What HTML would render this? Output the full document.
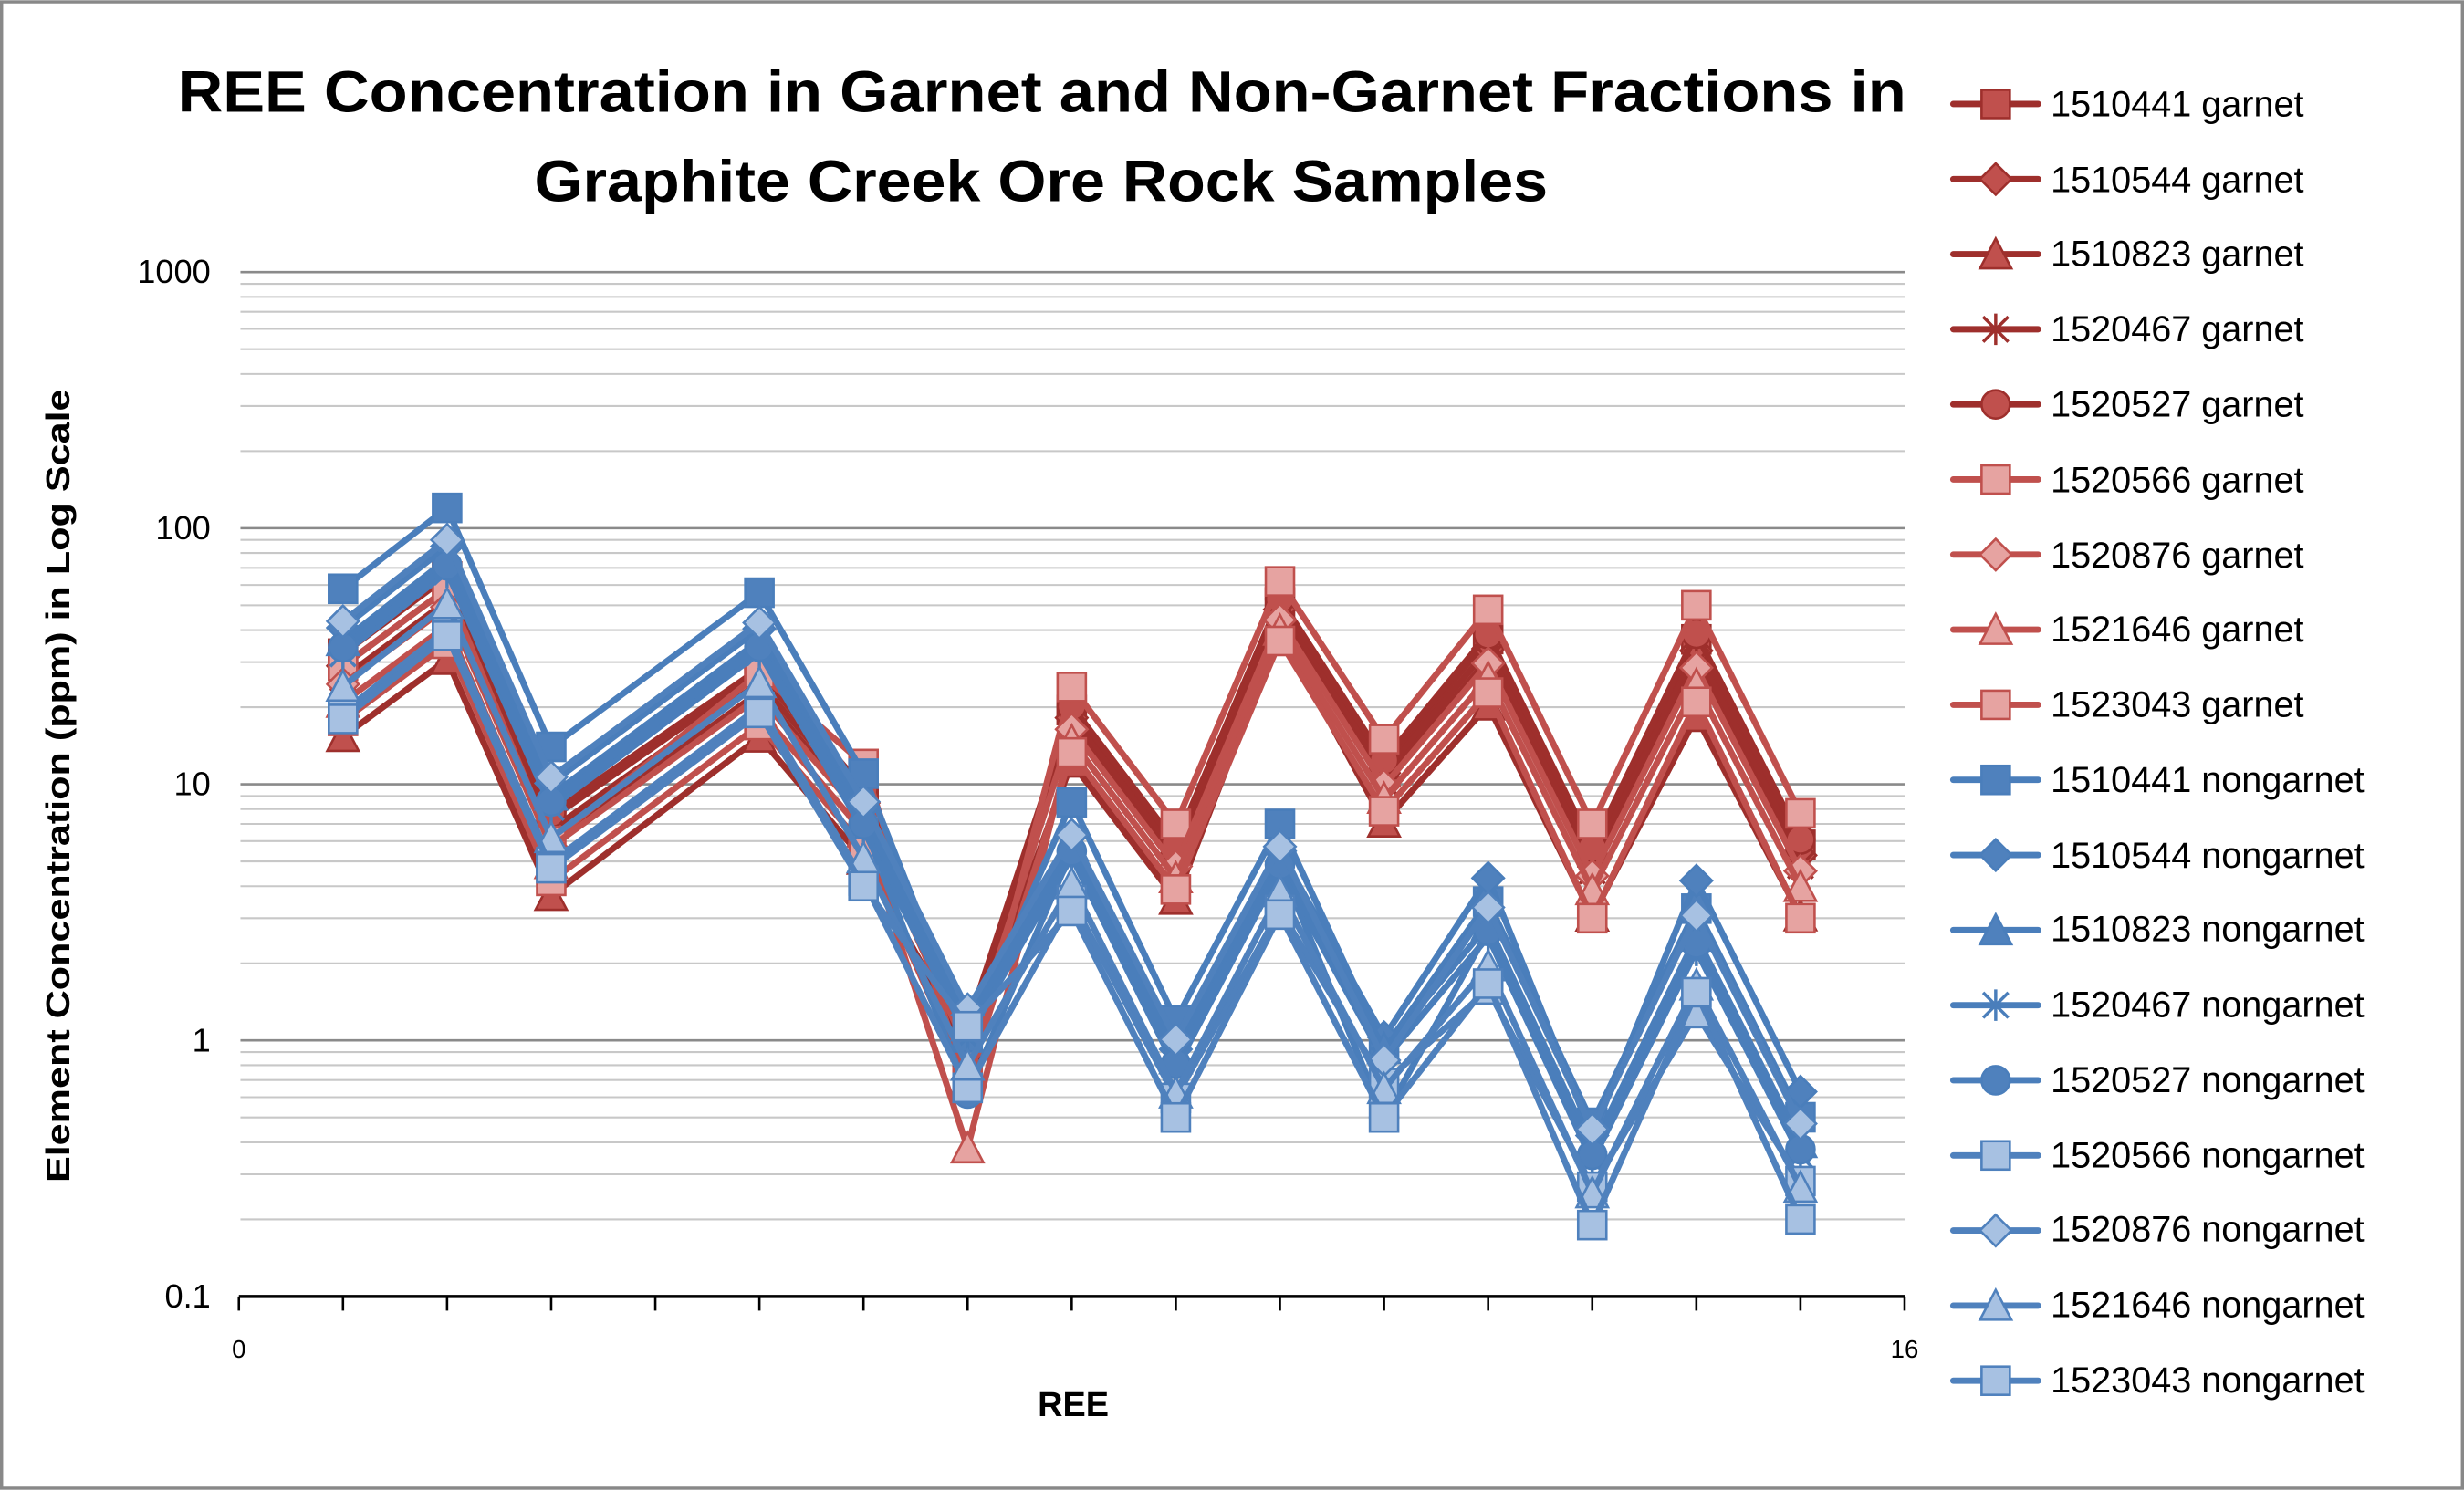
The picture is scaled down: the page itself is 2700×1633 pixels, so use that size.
<!DOCTYPE html>
<html><head><meta charset="utf-8"><style>
html,body{margin:0;padding:0;background:#fff;}
svg{display:block;}
text{font-family:"Liberation Sans",sans-serif;}
</style></head><body>
<svg id="c" width="2700" height="1633" viewBox="0 0 1568 948" xmlns="http://www.w3.org/2000/svg">
<rect x="1" y="1" width="1566" height="946" fill="#fff" stroke="#888" stroke-width="2"/>
<g id="grid"></g>
<text x="113" y="71" font-size="37" font-weight="bold" textLength="1100" lengthAdjust="spacingAndGlyphs">REE Concentration in Garnet and Non-Garnet Fractions in</text>
<text x="340" y="128" font-size="37" font-weight="bold" textLength="645" lengthAdjust="spacingAndGlyphs">Graphite Creek Ore Rock Samples</text>
<g font-size="21" text-anchor="end">
<text x="134" y="180">1000</text>
<text x="134" y="343">100</text>
<text x="134" y="506">10</text>
<text x="134" y="669">1</text>
<text x="134" y="832">0.1</text>
</g>
<text x="152" y="864" text-anchor="middle" font-size="16">0</text>
<text x="1212" y="864" text-anchor="middle" font-size="16">16</text>
<text x="683" y="901" text-anchor="middle" font-size="22" font-weight="bold">REE</text>
<text transform="translate(44,500) rotate(-90)" text-anchor="middle" font-size="21" font-weight="bold" textLength="505" lengthAdjust="spacingAndGlyphs">Element Concentration (ppm) in Log Scale</text>
<g id="series"></g>
<g id="leg" font-size="23">
<text x="1305" y="74">1510441 garnet</text>
<text x="1305" y="122">1510544 garnet</text>
<text x="1305" y="169">1510823 garnet</text>
<text x="1305" y="217">1520467 garnet</text>
<text x="1305" y="265">1520527 garnet</text>
<text x="1305" y="313">1520566 garnet</text>
<text x="1305" y="361">1520876 garnet</text>
<text x="1305" y="408">1521646 garnet</text>
<text x="1305" y="456">1523043 garnet</text>
<text x="1305" y="504">1510441 nongarnet</text>
<text x="1305" y="552">1510544 nongarnet</text>
<text x="1305" y="599">1510823 nongarnet</text>
<text x="1305" y="647">1520467 nongarnet</text>
<text x="1305" y="695">1520527 nongarnet</text>
<text x="1305" y="743">1520566 nongarnet</text>
<text x="1305" y="790">1520876 nongarnet</text>
<text x="1305" y="838">1521646 nongarnet</text>
<text x="1305" y="886">1523043 nongarnet</text>
</g>
<g id="legm"></g>
</svg>
<script>
var NS="http://www.w3.org/2000/svg";
function el(p,t,a){var e=document.createElementNS(NS,t);for(var k in a)e.setAttribute(k,a[k]);p.appendChild(e);return e;}
var X0=152,X1=1212,Y0=825,DEC=163;
function px(x){return X0+(X1-X0)*x/16;}
function py(v){return Y0-DEC*(Math.log10(v)+1);}
var g=document.getElementById('grid');
for(var d=-1;d<3;d++){for(var m=2;m<10;m++){var y=py(m*Math.pow(10,d));el(g,'line',{x1:153,x2:1212,y1:y,y2:y,stroke:'#c8c8c8','stroke-width':1.2});}}
[1,10,100,1000].forEach(function(v){var y=py(v);el(g,'line',{x1:153,x2:1212,y1:y,y2:y,stroke:'#8a8a8a','stroke-width':1.5});});
el(g,'line',{x1:152,x2:1212,y1:825,y2:825,stroke:'#000','stroke-width':2});
for(var i=0;i<=16;i++){el(g,'line',{x1:px(i),x2:px(i),y1:825,y2:834,stroke:'#000','stroke-width':1.5});}
var xs=[1,2,3,5,6,7,8,9,10,11,12,13,14,15];
var GL=[15,30,3.6,15,5,0.6,12,3.5,33,7,20,3,18,3],GH=[45,90,10,35,12,1.5,24,7,62,15,48,7,50,7.7];
var NL=[18,38,4.7,19,4,0.62,3.2,0.5,3.1,0.5,1.5,0.19,1.2,0.2],NH=[58,120,14,56,11,1.7,8.5,1.2,7,1.4,4.3,0.6,4.2,0.63];
function gen(L,H,t,ov){return L.map(function(l,i){var tt=(ov&&ov[i]!==undefined)?ov[i]:t;return l*Math.pow(H[i]/l,tt);});}
var DR={s:'#9E2F2C',f:'#C0504D'},PK={s:'#C0504D',f:'#E6A3A1'},BL={s:'#4A7EBB',f:'#4F81BD'},LB={s:'#4F81BD',f:'#A7C1E2'};
var S=[
[gen(GL,GH,0.7),'sq',DR],
[gen(GL,GH,0.6),'di',DR],
[gen(GL,GH,0.02,{5:0.5,8:0.3}),'tr',DR],
[gen(GL,GH,0.5),'st',DR],
[gen(GL,GH,0.75,{5:0.3}),'ci',DR],
[gen(GL,GH,1,{0:0.6,1:0.6,2:0.5,3:0.7,5:0.1}),'sq',PK],
[gen(GL,GH,0.45),'di',PK],
[gen(GL,GH,0.3,{5:-0.5}),'tr',PK],
[gen(GL,GH,0.15,{11:0,13:0}),'sq',PK],
[gen(NL,NH,1,{5:0.5,9:0.6,10:0.8,11:0.8,12:0.8,13:0.8}),'sq',BL],
[gen(NL,NH,0.7,{10:1,12:1,13:1}),'di',BL],
[gen(NL,NH,0.6),'tr',BL],
[gen(NL,NH,0.5),'st',BL],
[gen(NL,NH,0.55,{5:0,9:0}),'ci',BL],
[gen(NL,NH,0.05,{6:0.1,7:0.2,9:0.3,11:0.3,13:0.3}),'sq',LB],
[gen(NL,NH,0.75,{6:0.7,7:0.8,9:0.5}),'di',LB],
[gen(NL,NH,0.25),'tr',LB],
[gen(NL,NH,0,{5:0.6,7:0,8:0,10:0.1,12:0.2}),'sq',LB]
];
function mark(p,t,x,y,c){
 var a={fill:c.f,stroke:c.s,'stroke-width':1.5};
 if(t=='sq'){a.x=x-9;a.y=y-9;a.width=18;a.height=18;el(p,'rect',a);}
 else if(t=='di'){a.points=(x)+','+(y-10)+' '+(x+10)+','+y+' '+x+','+(y+10)+' '+(x-10)+','+y;el(p,'polygon',a);}
 else if(t=='tr'){a.points=x+','+(y-10)+' '+(x+10)+','+(y+9)+' '+(x-10)+','+(y+9);el(p,'polygon',a);}
 else if(t=='ci'){a.cx=x;a.cy=y;a.r=9;el(p,'circle',a);}
 else {var d='M'+(x-8)+' '+(y-8)+'L'+(x+8)+' '+(y+8)+'M'+(x+8)+' '+(y-8)+'L'+(x-8)+' '+(y+8)+'M'+x+' '+(y-10)+'L'+x+' '+(y+10);el(p,'path',{d:d,stroke:c.s,'stroke-width':2,fill:'none'});}
}
var sg=document.getElementById('series');
S.forEach(function(s){
 var pts=s[0].map(function(v,i){return px(xs[i])+','+py(v);}).join(' ');
 el(sg,'polyline',{points:pts,fill:'none',stroke:s[2].s,'stroke-width':4,'stroke-linejoin':'round'});
 s[0].forEach(function(v,i){mark(sg,s[1],px(xs[i]),py(v),s[2]);});
});
var lm=document.getElementById('legm');
S.forEach(function(s,i){var y=66+i*47.8;
 el(lm,'line',{x1:1243,x2:1297,y1:y,y2:y,stroke:s[2].s,'stroke-width':4,'stroke-linecap':'round'});
 mark(lm,s[1],1270,y,s[2]);});
</script>
</body></html>
